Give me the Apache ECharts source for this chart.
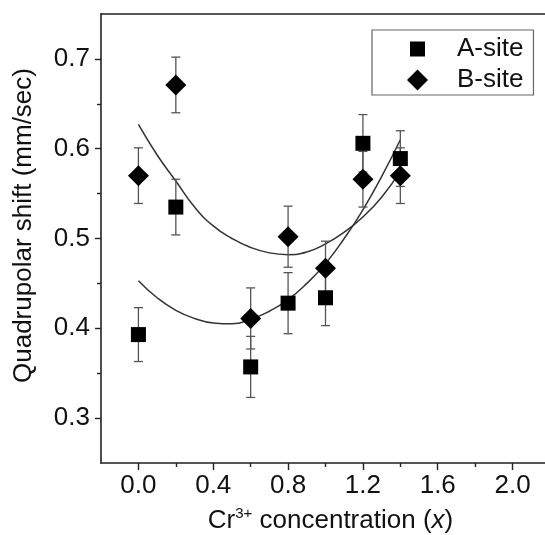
<!DOCTYPE html>
<html><head><meta charset="utf-8">
<script src="https://cdn.jsdelivr.net/npm/echarts@6/dist/echarts.min.js"></script>
<style>html,body{margin:0;padding:0;background:#fff}#c{width:545px;height:535px}</style>
</head><body><div id="c"></div>
<script>
// ---- data ----
const xValues = [0.0, 0.2, 0.6, 0.8, 1.0, 1.2, 1.4];
const aSite = [0.393, 0.535, 0.357, 0.428, 0.434, 0.606, 0.589];
const aSiteErr = [0.030, 0.031, 0.034, 0.034, 0.031, 0.032, 0.031];
const bSite = [0.570, 0.671, 0.411, 0.502, 0.467, 0.566, 0.570];
const bSiteErr = [0.031, 0.031, 0.034, 0.034, 0.030, 0.031, 0.031];
const fitX = [0.0, 0.1, 0.2, 0.3, 0.4, 0.5, 0.6, 0.7, 0.8, 0.9, 1.0, 1.1, 1.2, 1.3, 1.4];
const fitUpper = [0.627, 0.593, 0.564, 0.535, 0.514, 0.500, 0.490, 0.484, 0.482, 0.485, 0.494, 0.507, 0.524, 0.546, 0.575];
const fitLower = [0.453, 0.434, 0.420, 0.411, 0.406, 0.405, 0.410, 0.419, 0.432, 0.450, 0.472, 0.500, 0.532, 0.569, 0.610];
const xTickLabels = [0.0, 0.4, 0.8, 1.2, 1.6, 2.0];
const xMinorTicks = [0.2, 0.6, 1.0, 1.4, 1.8];
const yTickLabels = [0.3, 0.4, 0.5, 0.6, 0.7];
const yMinorTicks = [0.35, 0.45, 0.55, 0.65];
const seriesNames = ['A-site', 'B-site'];
const xTitle = '{n|Cr}{sup|3+}{n| concentration (}{i|x}{n|)}';
const yTitle = 'Quadrupolar shift (mm/sec)';

const FONT = '"Liberation Sans", Arial, sans-serif';
const AX = '#222';
// legend square drawn inside a padded box so it comes out smaller than the diamond
const SQUARE_ICON = 'path://M0,0L0.01,0L0,0.01Z M3,3L18,3L18,18L3,18Z M21,21L20.99,21L21,20.99Z';
const chart = echarts.init(document.getElementById('c'), null, {renderer: 'canvas'});

function errSeries(vals, errs) {
  return {
    type: 'custom', silent: true, z: 2,
    data: xValues.map((x, i) => [x, vals[i] - errs[i], vals[i] + errs[i]]),
    encode: {x: 0, y: [1, 2]},
    renderItem: (params, api) => {
      const x = api.value(0);
      const top = api.coord([x, api.value(2)]);
      const bot = api.coord([x, api.value(1)]);
      const hw = 4.5;
      const st = {stroke: '#555', lineWidth: 1.3};
      return {type: 'group', children: [
        {type: 'line', shape: {x1: top[0], y1: top[1], x2: bot[0], y2: bot[1]}, style: st},
        {type: 'line', shape: {x1: top[0] - hw, y1: top[1], x2: top[0] + hw, y2: top[1]}, style: st},
        {type: 'line', shape: {x1: bot[0] - hw, y1: bot[1], x2: bot[0] + hw, y2: bot[1]}, style: st}
      ]};
    }
  };
}

const baseX = {type: 'value', min: -0.2, max: 2.2, splitLine: {show: false}};
const baseY = {type: 'value', min: 0.25, max: 0.75, position: 'left', splitLine: {show: false}};

chart.setOption({
  animation: false,
  backgroundColor: '#fff',
  grid: {left: 101, top: 14, width: 449, height: 449, show: false,
         containLabel: false, outerBoundsMode: 'none'},
  legend: {
    orient: 'vertical', left: 372, top: 30,
    data: [{name: seriesNames[0], icon: SQUARE_ICON}, {name: seriesNames[1], icon: 'diamond'}],
    itemWidth: 21, itemHeight: 21, itemGap: 5, padding: [6, 10, 2, 35],
    symbolKeepAspect: true,
    borderColor: '#666', borderWidth: 1.2,
    textStyle: {fontSize: 26, color: '#111', fontFamily: FONT, padding: [0, 0, 0, 24]}
  },
  xAxis: [
    Object.assign({}, baseX, {
      position: 'bottom',
      axisLine: {onZero: false, lineStyle: {color: AX, width: 1.6}},
      axisTick: {customValues: xTickLabels, length: 7, lineStyle: {color: AX, width: 1.4}},
      axisLabel: {customValues: xTickLabels, formatter: v => v.toFixed(1), fontSize: 26, color: '#111', fontFamily: FONT, margin: 10},
      name: xTitle, nameLocation: 'middle', nameGap: 43,
      nameTextStyle: {fontSize: 26, color: '#111', fontFamily: FONT, padding: [0, 0, 0, 10],
        rich: {
          n: {fontSize: 26, color: '#111', fontFamily: FONT, lineHeight: 30},
          i: {fontSize: 26, color: '#111', fontFamily: FONT, fontStyle: 'italic', lineHeight: 30},
          sup: {fontSize: 15, color: '#111', fontFamily: FONT, verticalAlign: 'top', lineHeight: 15}
        }}
    }),
    Object.assign({}, baseX, {
      position: 'bottom',
      axisLine: {show: false, onZero: false},
      axisTick: {customValues: xMinorTicks, length: 4, lineStyle: {color: AX, width: 1.4}},
      axisLabel: {show: false}
    }),
    Object.assign({}, baseX, {
      position: 'top',
      axisLine: {onZero: false, lineStyle: {color: AX, width: 1.6}},
      axisTick: {show: false},
      axisLabel: {show: false}
    })
  ],
  yAxis: [
    Object.assign({}, baseY, {
      axisLine: {onZero: false, lineStyle: {color: AX, width: 1.6}},
      axisTick: {customValues: yTickLabels, length: 6, lineStyle: {color: AX, width: 1.4}},
      axisLabel: {customValues: yTickLabels, formatter: v => v.toFixed(1), fontSize: 26, color: '#111', fontFamily: FONT, margin: 11},
      name: yTitle, nameLocation: 'middle', nameGap: 64,
      nameTextStyle: {fontSize: 26, color: '#111', fontFamily: FONT, padding: [0, 0, 0, 26]}
    }),
    Object.assign({}, baseY, {
      axisLine: {show: false, onZero: false},
      axisTick: {customValues: yMinorTicks, length: 4, lineStyle: {color: AX, width: 1.4}},
      axisLabel: {show: false}
    })
  ],
  series: [
    {type: 'line', silent: true, showSymbol: false, symbol: 'none', smooth: true, z: 1,
     lineStyle: {color: '#333', width: 1.5}, data: fitX.map((x, i) => [x, fitUpper[i]])},
    {type: 'line', silent: true, showSymbol: false, symbol: 'none', smooth: true, z: 1,
     lineStyle: {color: '#333', width: 1.5}, data: fitX.map((x, i) => [x, fitLower[i]])},
    errSeries(aSite, aSiteErr),
    errSeries(bSite, bSiteErr),
    {name: seriesNames[0], type: 'scatter', symbol: 'rect', symbolSize: 15, z: 3,
     itemStyle: {color: '#000', opacity: 1}, data: xValues.map((x, i) => [x, aSite[i]])},
    {name: seriesNames[1], type: 'scatter', symbol: 'diamond', symbolSize: 21, z: 3,
     itemStyle: {color: '#000', opacity: 1}, data: xValues.map((x, i) => [x, bSite[i]])}
  ]
});
</script></body></html>
